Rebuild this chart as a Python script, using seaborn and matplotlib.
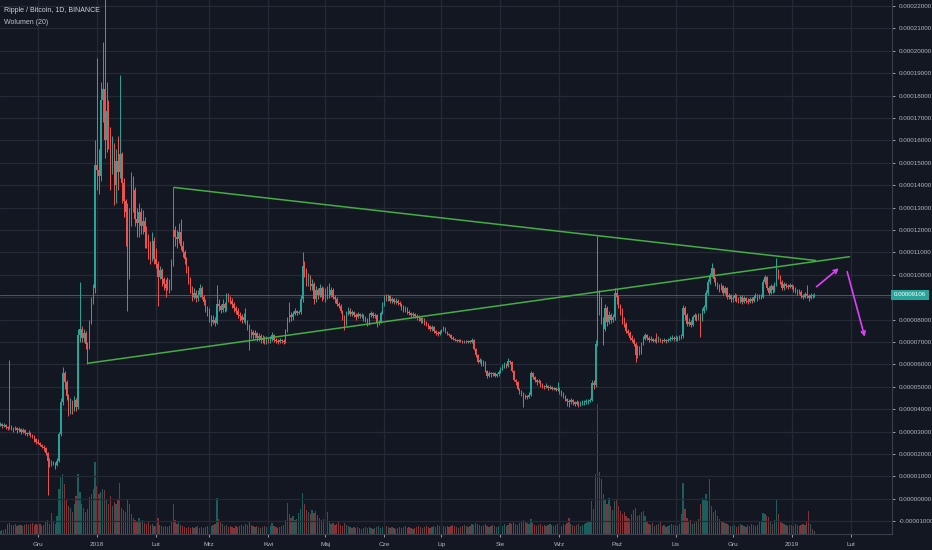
import numpy as np
import pandas as pd
import matplotlib
matplotlib.use("Agg")
import matplotlib.pyplot as plt
import matplotlib.dates as mdates
import matplotlib.transforms as mtrans
import seaborn as sns

# ---------------- data (prices in satoshi = 1e-8 BTC, volume in arbitrary units) -------------
first_day = "2017-11-11"
first_open = 3300

close_2017_11 = [3350, 3250, 3300, 3200, 3150, 3250, 3150, 3100, 3150, 3050, 3100, 3000, 3050, 2950, 2900, 2950, 2850, 2800, 2650, 2550]
high_2017_11 = [3450, 3400, 3400, 3350, 3250, 6200, 3300, 3200, 3250, 3200, 3200, 3150, 3150, 3100, 3000, 3050, 3000, 2900, 2850, 2700]
low_2017_11 = [3250, 3150, 3200, 3100, 3050, 3100, 3050, 3000, 3050, 2950, 3000, 2900, 2950, 2850, 2800, 2850, 2750, 2700, 2550, 2450]
vol_2017_11 = [3, 4, 4, 5, 10, 11, 9, 9, 10, 8, 9, 9, 8, 9, 10, 9, 10, 11, 9, 10]

close_2017_12 = [2500, 2400, 2300, 2250, 2050, 1700, 1550, 1650, 1600, 1500, 1700, 2900, 4300, 5600, 5200, 4600, 3900, 4300, 4000, 4400, 4100, 7300, 7600, 7200, 7400, 6900, 6800, 7900, 8800, 9400, 14900]
high_2017_12 = [2650, 2550, 2450, 2400, 2300, 2100, 1800, 1750, 1700, 1650, 1800, 3000, 4500, 5900, 5700, 5300, 4700, 4500, 4400, 4600, 4500, 7600, 9700, 7700, 7600, 7500, 7000, 8000, 9000, 9600, 16000]
low_2017_12 = [2450, 2350, 2250, 2150, 1950, 150, 1400, 1450, 1500, 1350, 1450, 1650, 2800, 4200, 4900, 4400, 3700, 3800, 3800, 3900, 3900, 4000, 7000, 7000, 7000, 6700, 6000, 6700, 7800, 8700, 9200]
vol_2017_12 = [9, 10, 8, 9, 12, 14, 10, 21, 12, 10, 18, 45, 58, 60, 50, 35, 28, 26, 22, 30, 38, 60, 42, 30, 26, 22, 25, 37, 40, 45, 72]

close_2018_01 = [14700, 14400, 17800, 18300, 16000, 17300, 16200, 14800, 15600, 14000, 15100, 14600, 15400, 14100, 13300, 12800, 10000, 12500, 13600, 13800, 12500, 12300, 12800, 12200, 12400, 11900, 11600, 11100, 10800, 11500, 10700]
high_2018_01 = [19700, 15600, 18600, 20400, 23500, 18600, 17800, 16600, 16200, 15900, 15600, 16200, 18900, 15500, 14300, 13400, 13200, 13000, 14600, 14400, 13900, 13000, 13200, 13000, 12900, 12600, 12200, 11800, 11500, 11900, 11700]
low_2018_01 = [13800, 13600, 14200, 16800, 15200, 15500, 15600, 13800, 14500, 13100, 13200, 13800, 14300, 13200, 12600, 11300, 8400, 9800, 12200, 12800, 12200, 11700, 11700, 11800, 11800, 11200, 11200, 10700, 10500, 10600, 10500]
vol_2018_01 = [48, 40, 42, 45, 44, 35, 30, 38, 28, 32, 30, 35, 51, 26, 24, 22, 34, 30, 20, 16, 14, 13, 16, 12, 14, 11, 10, 12, 9, 10, 8]

close_2018_02 = [10500, 9900, 10200, 9800, 9600, 9400, 9700, 9350, 10500, 12000, 11700, 11600, 11900, 11300, 11000, 10700, 10300, 9800, 9400, 9000, 9200, 8950, 9100, 9400, 9000, 8800, 8500, 8300]
high_2018_02 = [11200, 10600, 10400, 10300, 9900, 9800, 9900, 9800, 10700, 13900, 12200, 12000, 12300, 12500, 11500, 11100, 10800, 10400, 9900, 9500, 9400, 9300, 9300, 9600, 9500, 9100, 8900, 8600]
low_2018_02 = [10300, 8600, 9800, 9500, 9300, 9000, 9300, 9200, 9300, 10400, 11300, 11200, 11400, 11100, 10800, 10500, 10100, 9600, 9200, 8850, 8900, 8800, 8850, 9000, 8900, 8650, 8350, 8150]
vol_2018_02 = [8, 16, 9, 8, 7, 8, 7, 8, 12, 30, 14, 10, 13, 9, 8, 7, 6, 7, 6, 7, 6, 7, 8, 6, 7, 6, 7, 8]

close_2018_03 = [8100, 7900, 8000, 7850, 8700, 8600, 8450, 8700, 8500, 9100, 8950, 8850, 8700, 8500, 8400, 8200, 8150, 8000, 8100, 7900, 7700, 7300, 7450, 7300, 7400, 7200, 7250, 7100, 7150, 7050, 7100]
high_2018_03 = [8500, 8200, 8200, 8100, 9550, 8900, 8700, 8900, 8800, 9200, 9200, 9050, 8950, 8800, 8600, 8500, 8350, 8250, 8300, 8500, 8000, 7800, 7600, 7550, 7550, 7450, 7400, 7350, 7300, 7250, 7250]
low_2018_03 = [7900, 7700, 7800, 7700, 7800, 8400, 8300, 8350, 8350, 8400, 8800, 8700, 8500, 8350, 8250, 8050, 7950, 7850, 7900, 7800, 7550, 6650, 7200, 7150, 7200, 7050, 7050, 6950, 6950, 6900, 6900]
vol_2018_03 = [7, 8, 9, 10, 36, 15, 12, 10, 8, 9, 7, 8, 7, 6, 8, 7, 8, 9, 8, 10, 9, 13, 9, 8, 7, 8, 7, 6, 7, 8, 7]

close_2018_04 = [7050, 7150, 7300, 7100, 7050, 7000, 7100, 7050, 7000, 7500, 8000, 8200, 8100, 8250, 8400, 8300, 8350, 8900, 10400, 10200, 9700, 9900, 9500, 9600, 8900, 9300, 9100, 9400, 9000, 9300]
high_2018_04 = [7200, 7250, 7460, 7350, 7200, 7150, 7200, 7150, 7150, 7600, 8100, 8800, 8350, 8400, 8500, 8450, 8450, 9100, 11030, 10600, 10300, 10100, 10000, 9800, 9700, 9500, 9400, 9600, 9500, 9450]
low_2018_04 = [6950, 6950, 7050, 7000, 6950, 6900, 6950, 6950, 6900, 6950, 7450, 7900, 7950, 8000, 8200, 8200, 8250, 8250, 8800, 9900, 9500, 9500, 9300, 9300, 8700, 8800, 8900, 9000, 8850, 8900]
vol_2018_04 = [7, 8, 11, 8, 7, 6, 7, 8, 9, 14, 31, 20, 16, 18, 14, 15, 21, 25, 41, 30, 24, 22, 20, 24, 21, 23, 19, 16, 14, 15]

close_2018_05 = [9000, 9200, 9100, 9300, 9000, 8900, 8700, 8600, 8400, 8100, 7800, 8300, 8400, 8250, 8350, 8200, 8100, 8250, 8150, 8200, 8050, 8000, 7800, 8200, 8300, 8150, 8200, 7850, 7900, 8300, 8700]
high_2018_05 = [9400, 9500, 9620, 9450, 9400, 9100, 9000, 8800, 8700, 8450, 8200, 8400, 8550, 8500, 8450, 8400, 8300, 8350, 8300, 8300, 8250, 8150, 8050, 8300, 8400, 8350, 8300, 8250, 8000, 8400, 8800]
low_2018_05 = [8800, 8900, 8950, 9000, 8900, 8750, 8600, 8500, 8300, 8000, 7540, 7750, 8200, 8150, 8150, 8100, 8000, 8050, 8050, 8050, 7950, 7900, 7700, 7750, 8100, 8050, 8050, 7690, 7750, 7850, 8250]
vol_2018_05 = [13, 22, 12, 10, 11, 9, 10, 12, 9, 8, 11, 9, 8, 7, 6, 7, 6, 7, 6, 5, 6, 7, 6, 7, 6, 5, 6, 7, 8, 6, 7]

close_2018_06 = [9000, 8950, 9050, 8850, 8900, 8800, 8850, 8750, 8700, 8550, 8450, 8500, 8350, 8300, 8200, 8250, 8150, 8100, 8050, 7950, 8000, 7850, 7800, 7700, 7600, 7650, 7500, 7400, 7350, 7450]
high_2018_06 = [9100, 9150, 9150, 9100, 9000, 8950, 8950, 8900, 8850, 8750, 8650, 8600, 8550, 8450, 8350, 8350, 8300, 8250, 8200, 8100, 8100, 8050, 7950, 7850, 7750, 7750, 7700, 7550, 7500, 7550]
low_2018_06 = [8600, 8850, 8850, 8750, 8750, 8700, 8700, 8650, 8600, 8450, 8350, 8350, 8250, 8200, 8100, 8100, 8050, 8000, 7950, 7850, 7850, 7750, 7700, 7600, 7500, 7500, 7400, 7300, 7250, 7300]
vol_2018_06 = [9, 8, 7, 6, 7, 6, 5, 6, 7, 6, 7, 8, 6, 7, 6, 5, 6, 7, 8, 7, 6, 7, 8, 7, 6, 7, 8, 7, 9, 8]

close_2018_07 = [7550, 7600, 7450, 7350, 7300, 7200, 7150, 7100, 7050, 7100, 7050, 7000, 7050, 7000, 7050, 7000, 7100, 6700, 6400, 6100, 6200, 6000, 6100, 5700, 5500, 5600, 5550, 5600, 5500, 5550, 5650]
high_2018_07 = [7600, 7700, 7650, 7500, 7400, 7350, 7250, 7200, 7150, 7150, 7150, 7100, 7100, 7100, 7100, 7100, 7200, 7150, 6750, 6450, 6300, 6250, 6200, 6150, 5750, 5700, 5650, 5650, 5650, 5600, 5750]
low_2018_07 = [7400, 7500, 7400, 7300, 7250, 7150, 7100, 7050, 7000, 7000, 7000, 6950, 6950, 6950, 6950, 6950, 6950, 6650, 6350, 6050, 6050, 5950, 5950, 5650, 5400, 5450, 5450, 5500, 5450, 5450, 5500]
vol_2018_07 = [9, 8, 7, 8, 7, 8, 9, 8, 7, 6, 7, 8, 9, 8, 7, 8, 10, 9, 11, 10, 9, 8, 9, 10, 8, 7, 8, 9, 8, 7, 8]

close_2018_08 = [5800, 5900, 6000, 5950, 6150, 6100, 5700, 5300, 5200, 4900, 4800, 4700, 4500, 4600, 4550, 4650, 5600, 5450, 5300, 5200, 5250, 5100, 5050, 5000, 5050, 4950, 5000, 4900, 4950, 4850, 4900]
high_2018_08 = [5900, 6000, 6100, 6050, 6270, 6200, 6150, 5750, 5350, 5250, 4950, 4850, 4750, 4700, 4650, 4750, 5700, 5680, 5500, 5350, 5350, 5300, 5150, 5100, 5150, 5100, 5100, 5050, 5000, 5000, 5200]
low_2018_08 = [5600, 5750, 5850, 5850, 5900, 6000, 5650, 5250, 5100, 4850, 4700, 4600, 4120, 4450, 4450, 4500, 4600, 5350, 5200, 5100, 5150, 5000, 4950, 4900, 4950, 4850, 4900, 4850, 4850, 4800, 4800]
vol_2018_08 = [9, 8, 10, 8, 9, 11, 10, 12, 10, 9, 11, 12, 14, 13, 11, 10, 15, 11, 9, 8, 9, 10, 8, 9, 8, 9, 10, 9, 8, 9, 10]

close_2018_09 = [4800, 4700, 4600, 4450, 4350, 4300, 4400, 4300, 4250, 4300, 4200, 4250, 4300, 4300, 4350, 4350, 4400, 5150, 5100, 6900, 8600, 8900, 8000, 7600, 8500, 7900, 8200, 8000, 8100, 9200]
high_2018_09 = [5000, 4850, 4750, 4650, 4500, 4450, 4500, 4450, 4350, 4400, 4350, 4350, 4400, 4400, 4450, 4450, 4500, 5300, 5300, 7100, 11730, 9300, 9000, 8100, 8700, 8600, 8400, 8300, 8250, 9400]
low_2018_09 = [4700, 4600, 4500, 4350, 4150, 4120, 4250, 4200, 4150, 4200, 4100, 4150, 4200, 4200, 4250, 4250, 4300, 4350, 4900, 5000, 6800, 8200, 7800, 6870, 7500, 7700, 7800, 7850, 7900, 8000]
vol_2018_09 = [9, 8, 10, 9, 11, 16, 10, 9, 8, 9, 10, 8, 9, 10, 11, 12, 13, 33, 25, 60, 130, 62, 55, 40, 35, 30, 36, 28, 24, 33]

close_2018_10 = [9000, 8600, 8400, 8000, 7800, 7500, 7400, 7200, 7100, 6900, 6400, 6700, 6500, 6900, 7150, 7300, 7200, 7100, 7150, 7050, 7100, 7050, 7150, 7100, 7050, 7100, 7050, 7100, 7150, 7200, 7150]
high_2018_10 = [9400, 9100, 8700, 8500, 8100, 7900, 7600, 7500, 7300, 7200, 7000, 6850, 6800, 7000, 7250, 7400, 7350, 7250, 7250, 7200, 7200, 7420, 7250, 7200, 7150, 7200, 7150, 7200, 7250, 7300, 7250]
low_2018_10 = [8700, 8500, 8200, 7800, 7650, 7400, 7300, 7100, 7000, 6800, 6120, 6300, 6400, 6450, 6850, 7100, 7100, 7000, 7050, 7000, 7000, 6950, 7000, 7000, 6950, 7000, 6950, 7000, 7050, 7100, 7050]
vol_2018_10 = [35, 28, 23, 20, 22, 18, 16, 15, 20, 24, 26, 18, 19, 22, 23, 18, 12, 10, 9, 11, 8, 9, 10, 12, 8, 9, 7, 8, 9, 10, 9]

close_2018_11 = [7200, 7150, 7200, 7250, 8500, 8200, 7800, 7900, 7750, 8100, 8200, 8050, 8250, 8000, 8400, 8550, 9200, 9700, 10000, 10300, 9800, 9600, 9500, 9350, 9500, 9200, 9400, 9000, 9100, 8900]
high_2018_11 = [7300, 7250, 7300, 7350, 8650, 8600, 8300, 8050, 8000, 8200, 8300, 8250, 8300, 8300, 8500, 8650, 9300, 9800, 10100, 10540, 10300, 9900, 9700, 9600, 9650, 9550, 9500, 9450, 9200, 9150]
low_2018_11 = [7050, 7050, 7100, 7150, 7200, 8000, 7700, 7700, 7690, 7700, 8000, 7950, 8000, 7240, 7950, 8300, 8450, 9100, 9600, 9900, 9700, 9500, 9350, 9250, 9300, 9100, 9150, 8900, 8900, 8800]
vol_2018_11 = [9, 8, 10, 20, 51, 25, 16, 12, 14, 10, 11, 13, 15, 30, 36, 34, 40, 33, 55, 28, 22, 24, 18, 15, 13, 12, 11, 10, 9, 8]

close_2018_12 = [8950, 9100, 8900, 8850, 9000, 8800, 8950, 8850, 8800, 8900, 8850, 9000, 9100, 8950, 9050, 9000, 9700, 9900, 9400, 9200, 9500, 9300, 9600, 10200, 9900, 9700, 9400, 9600, 9500, 9450, 9550]
high_2018_12 = [9100, 9200, 9150, 9000, 9100, 9100, 9050, 9000, 8950, 9000, 9000, 9100, 9200, 9150, 9150, 9150, 9800, 10000, 9950, 9500, 9600, 9550, 9700, 10740, 10250, 10000, 9750, 9700, 9650, 9600, 9650]
low_2018_12 = [8800, 8850, 8800, 8750, 8750, 8700, 8750, 8750, 8700, 8750, 8750, 8800, 8950, 8850, 8900, 8900, 8950, 9600, 9300, 9100, 9150, 9200, 9250, 9500, 9800, 9600, 9300, 9300, 9400, 9350, 9400]
vol_2018_12 = [8, 9, 7, 8, 10, 9, 8, 7, 9, 8, 10, 9, 8, 9, 12, 12, 21, 20, 18, 17, 12, 10, 14, 35, 20, 13, 11, 10, 9, 8, 9]

close_2019_01 = [9450, 9350, 9300, 9200, 9250, 9050, 9000, 9150, 9050, 8950, 9100, 9050, 9106]
high_2019_01 = [9600, 9550, 9450, 9350, 9350, 9300, 9150, 9250, 9530, 9150, 9200, 9150, 9180]
low_2019_01 = [9350, 9250, 9200, 9100, 9150, 8950, 8900, 8950, 8950, 8850, 8900, 8950, 9000]
vol_2019_01 = [9, 8, 10, 9, 8, 9, 10, 9, 12, 23, 10, 5, 3]

last_price = 9106

# trend lines drawn on the chart (date, price)
upper_line_dates = ["2018-02-10 12:00", "2019-01-13 12:00"]
upper_line_prices = [13900, 10640]
lower_line_dates = ["2017-12-27 00:00", "2019-01-31 10:00"]
lower_line_prices = [6050, 10808]
# magenta arrows (start, end)
arrow_up_dates = ["2019-01-14 02:00", "2019-01-25 19:00"]
arrow_up_prices = [9469, 10290]
arrow_down_dates = ["2019-01-30 05:00", "2019-02-08 10:00"]
arrow_down_prices = [10138, 7237]

month_ticks = ["2017-12-01", "2018-01-01", "2018-02-01", "2018-03-01", "2018-04-01", "2018-05-01",
               "2018-06-01", "2018-07-01", "2018-08-01", "2018-09-01", "2018-10-01", "2018-11-01",
               "2018-12-01", "2019-01-01", "2019-02-01"]
month_labels = ["Gru", "2018", "Lut", "Mrz", "Kwi", "Maj", "Cze", "Lip", "Sie", "Wrz", "Paź", "Lis",
                "Gru", "2019", "Lut"]
price_ticks = list(range(-1000, 22001, 1000))

# ---------------- assemble ----------------
months = ["2017_11", "2017_12", "2018_01", "2018_02", "2018_03", "2018_04", "2018_05", "2018_06",
          "2018_07", "2018_08", "2018_09", "2018_10", "2018_11", "2018_12", "2019_01"]
g = globals()
for m in months:
    lens = {k: len(g[f"{k}_{m}"]) for k in ("close", "high", "low", "vol")}
    if len(set(lens.values())) != 1:
        raise ValueError(f"length mismatch {m}: {lens}")
closes = np.concatenate([g[f"close_{m}"] for m in months]).astype(float)
highs = np.concatenate([g[f"high_{m}"] for m in months]).astype(float)
lows = np.concatenate([g[f"low_{m}"] for m in months]).astype(float)
vols = np.concatenate([g[f"vol_{m}"] for m in months]).astype(float)
opens = np.r_[first_open, closes[:-1]]
dates = pd.date_range(first_day, periods=len(closes), freq="D")
xd = mdates.date2num(dates)
up = closes >= opens

# ---------------- style ----------------
BG = "#131722"
GRID = "#252935"
TXT = "#b2b5be"
UPC = "#26a69a"
DNC = "#ef5350"
GREEN = "#45ad45"
MAG = "#e040fb"

sns.set_theme(style="dark", rc={"axes.facecolor": BG, "figure.facecolor": BG,
                                "axes.edgecolor": "#3a3e4a", "text.color": TXT,
                                "xtick.color": TXT, "ytick.color": TXT})
plt.rcParams["font.family"] = ["Liberation Sans", "DejaVu Sans"]

fig = plt.figure(figsize=(9.32, 5.5), dpi=100)
rect = [0, 16.5 / 550, 891.5 / 932, 533.5 / 550]
ax_vol = fig.add_axes(rect)
ax = fig.add_axes(rect, sharex=ax_vol)
ax.set_zorder(2)
ax.patch.set_visible(False)
ax_vol.set_facecolor(BG)

# volume
vcol = np.where(up, UPC, DNC)
ax_vol.bar(xd, vols, width=0.66, color=vcol, alpha=0.5, linewidth=0)
ax_vol.set_ylim(0, 533.5)
ax_vol.tick_params(left=False, right=False, labelleft=False, labelright=False,
                   bottom=False, labelbottom=False)
for s in ax_vol.spines.values():
    s.set_visible(False)
ax_vol.grid(False)

# grid on price axis
ax.grid(True, color=GRID, linewidth=0.9)
ax.set_axisbelow(True)

# candles
ccol = np.where(up, UPC, DNC)
ax.vlines(xd, lows, highs, colors=ccol, linewidth=0.7, zorder=3)
body_lo = np.minimum(opens, closes)
body_h = np.maximum(np.abs(closes - opens), 25)
ax.bar(xd, body_h, bottom=body_lo, width=0.66, color=ccol, linewidth=0, zorder=4)

# trend lines
sns.lineplot(x=mdates.date2num(pd.to_datetime(upper_line_dates)), y=upper_line_prices,
             ax=ax, color=GREEN, linewidth=1.1, estimator=None, zorder=5)
sns.lineplot(x=mdates.date2num(pd.to_datetime(lower_line_dates)), y=lower_line_prices,
             ax=ax, color=GREEN, linewidth=1.1, estimator=None, zorder=5)

# arrows
for dts, prs in ((arrow_up_dates, arrow_up_prices), (arrow_down_dates, arrow_down_prices)):
    xs = mdates.date2num(pd.to_datetime(dts))
    ax.annotate("", xy=(xs[1], prs[1]), xytext=(xs[0], prs[0]),
                arrowprops=dict(arrowstyle="->", color=MAG, lw=1.2, mutation_scale=7,
                                shrinkA=0, shrinkB=0), zorder=6)

# last price line + label
ax.axhline(last_price, color=UPC, linewidth=0.7, alpha=0.6, zorder=2)
trans = mtrans.blended_transform_factory(ax.transAxes, ax.transData)
ax.text(1.0025, last_price, f"{last_price / 1e8:.8f}", transform=trans, ha="left", va="center",
        fontsize=4.4, color="white", clip_on=False, zorder=10,
        bbox=dict(boxstyle="square,pad=0.45", fc=UPC, ec="none"))

# axes
base = mdates.date2num(pd.Timestamp("2017-12-01"))
ax.set_xlim(base - 19.98, base + 448.5)
ax.set_ylim(-1549, 22268)
ax.set_yticks(price_ticks)
ax.set_yticklabels(["" if v == 9000 else f"{v / 1e8:.8f}" for v in price_ticks])
ax.yaxis.tick_right()
ax.tick_params(axis="y", labelsize=4.5, colors=TXT, length=2.5, width=0.6, pad=2.5,
               right=True, left=False)
ax.set_xticks(mdates.date2num(pd.to_datetime(month_ticks)))
ax.set_xticklabels(month_labels)
ax.tick_params(axis="x", labelsize=4.6, colors=TXT, length=2.5, width=0.6, pad=3.5, bottom=True)
for side in ("top", "left"):
    ax.spines[side].set_visible(False)
for side in ("right", "bottom"):
    ax.spines[side].set_visible(True)
    ax.spines[side].set_color("#3a3e4a")
    ax.spines[side].set_linewidth(0.8)
ax.set_xlabel("")
ax.set_ylabel("")

# legend text
fig.text(4 / 932, 1 - 11 / 550, "Ripple / Bitcoin, 1D, BINANCE", fontsize=5, color="#d1d4dc", va="center")
fig.text(4 / 932, 1 - 22 / 550, "Wolumen (20)", fontsize=5, color="#c0c3cc", va="center")

fig.savefig("out.png", dpi=100, facecolor=BG)
